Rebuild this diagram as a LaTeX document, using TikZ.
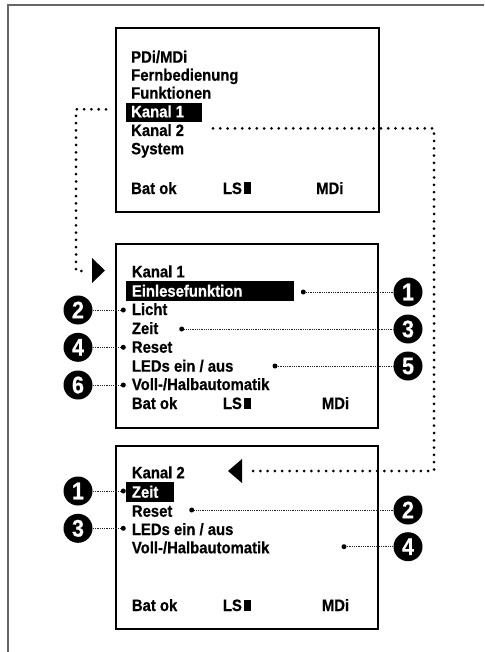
\documentclass[tikz,border=0pt]{standalone}
\usepackage{fontspec}
\newfontfamily\uifont{Liberation Sans}[FakeStretch=0.9, BoldFeatures={FakeBold=0.5}]
\begin{document}
\begin{tikzpicture}[x=1pt,y=-1pt,
 frame/.style={draw=black!60, line width=1.5pt},
 screen/.style={draw=black, line width=2.3pt, inner sep=0pt, anchor=north west},
 txt/.style={anchor=base west, inner sep=0pt, font=\uifont\bfseries\fontsize{16.5}{18}\selectfont},
 hltxt/.style={txt, text=white},
 hlbox/.style={fill=black, inner sep=0pt, anchor=north west},
 bigdots/.style={line width=3pt, line cap=round, dash pattern=on 0pt off 7.3pt},
 leader/.style={line width=0.7pt, dash pattern=on 0.7pt off 1.1pt, black!85},
 enddot/.style={circle, fill=black, inner sep=0pt, minimum size=5pt},
 callout/.style={circle, fill=black, inner sep=0pt, minimum size=29pt, text=white, font=\uifont\bfseries\fontsize{24}{24}\selectfont},
 tri/.style={fill=black}
]
\useasboundingbox (0,0) rectangle (484,652);
\fill[white] (0,0) rectangle (484,652);
\draw[frame] (8,652) -- (8,5) -- (484,5);

% ---------- screen 1
\node[screen, minimum width=263pt, minimum height=184pt] (s1) at (115,27) {};
\node[hlbox, minimum width=76pt, minimum height=19pt] (k1hl) at (126,103) {};
\node[txt] (a1) at (131,62.7) {PDi/MDi};
\node[txt] (a2) at (131,80.7) {Fernbedienung};
\node[txt] (a3) at (131,98.7) {Funktionen};
\node[hltxt] (a4) at (131,117.3) {Kanal 1};
\node[txt] (a5) at (131,136) {Kanal 2};
\node[txt] (a6) at (131,154.3) {System};
\node[txt] (a7) at (131,194) {Bat ok};
\node[txt] (a8) at (222.7,194) {LS\kern2pt\rule{7pt}{11.5pt}};
\node[txt] (a9) at (316,194) {MDi};

% ---------- screen 2
\node[screen, minimum width=262pt, minimum height=184pt] (s2) at (115,243) {};
\node[hlbox, minimum width=168pt, minimum height=20pt] (einhl) at (126,281) {};
\node[txt] (b1) at (131.7,277.3) {Kanal 1};
\node[hltxt] (b2) at (131.7,296.7) {Einlesefunktion};
\node[txt] (b3) at (131.7,315) {Licht};
\node[txt] (b4) at (131.7,334) {Zeit};
\node[txt] (b5) at (131.7,352.7) {Reset};
\node[txt] (b6) at (131.7,371.7) {LEDs ein / aus};
\node[txt] (b7) at (131.7,390) {Voll-/Halbautomatik};
\node[txt] (b8) at (131.7,409) {Bat ok};
\node[txt] (b9) at (222.7,409) {LS\kern2pt\rule{7pt}{11.5pt}};
\node[txt] (b10) at (321.7,409) {MDi};

% ---------- screen 3
\node[screen, minimum width=262pt, minimum height=183pt] (s3) at (115,445) {};
\node[hlbox, minimum width=48pt, minimum height=20pt] (zeithl) at (126,482) {};
\node[txt] (c1) at (131.7,478.3) {Kanal 2};
\node[hltxt] (c2) at (131.7,497.7) {Zeit};
\node[txt] (c3) at (131.7,516.7) {Reset};
\node[txt] (c4) at (131.7,535) {LEDs ein / aus};
\node[txt] (c5) at (131.7,553.3) {Voll-/Halbautomatik};
\node[txt] (c6) at (131.7,611) {Bat ok};
\node[txt] (c7) at (222.7,611) {LS\kern2pt\rule{7pt}{11.5pt}};
\node[txt] (c8) at (321.7,611) {MDi};

% ---------- navigation connectors
\coordinate (k1L) at (106,109.3);
\coordinate (p1) at (76,109.3);
\coordinate (p2) at (76,271);
\coordinate (p3) at (88,271);
\draw[bigdots] (k1L) -- (p1) -- (p2) -- (p3);
\fill[tri] (92,258) -- (105,270.5) -- (92,283) -- cycle;

\coordinate (k2R) at (213,128.4);
\coordinate (q1) at (434,128.4);
\coordinate (q2) at (434,471);
\coordinate (q3) at (248,471);
\draw[bigdots] (k2R) -- (q1) -- (q2) -- (q3);
\fill[tri] (242,459) -- (228,471) -- (242,483) -- cycle;

% ---------- callouts screen 2
\node[callout] (n21) at (408,292) {1};
\node[callout] (n22) at (78,310) {2};
\node[callout] (n23) at (408,329) {3};
\node[callout] (n24) at (78,347.3) {4};
\node[callout] (n25) at (408,366) {5};
\node[callout] (n26) at (78,385) {6};
\node[enddot] (d21) at (303.3,292) {};
\node[enddot] (d22) at (123.3,310) {};
\node[enddot] (d23) at (181.7,329) {};
\node[enddot] (d24) at (123.3,347.3) {};
\node[enddot] (d25) at (275,366) {};
\node[enddot] (d26) at (123.3,385) {};
\draw[leader] (d21) -- (n21);
\draw[leader] (d22) -- (n22);
\draw[leader] (d23) -- (n23);
\draw[leader] (d24) -- (n24);
\draw[leader] (d25) -- (n25);
\draw[leader] (d26) -- (n26);

% ---------- callouts screen 3
\node[callout] (n31) at (78,491) {1};
\node[callout] (n32) at (408,510) {2};
\node[callout] (n33) at (78,528.3) {3};
\node[callout] (n34) at (408,546.7) {4};
\node[enddot] (d31) at (123.3,491) {};
\node[enddot] (d32) at (191.7,510) {};
\node[enddot] (d33) at (123.3,528.3) {};
\node[enddot] (d34) at (344,546.7) {};
\draw[leader] (d31) -- (n31);
\draw[leader] (d32) -- (n32);
\draw[leader] (d33) -- (n33);
\draw[leader] (d34) -- (n34);
\end{tikzpicture}
\end{document}
